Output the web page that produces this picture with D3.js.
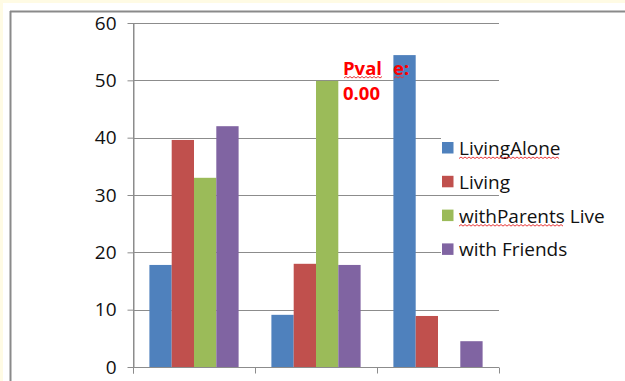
<!DOCTYPE html>
<html>
<head>
<meta charset="utf-8">
<script src="https://cdn.jsdelivr.net/npm/d3@7"></script>
<style>
  html, body { margin: 0; padding: 0; background: #ffffff; }
  svg { display: block; font-family: "Open Sans", sans-serif; }
</style>
</head>
<body>
<svg id="chart" width="625" height="381"></svg>
<script>
// Category groups (unlabelled on the axis)
const categories = ["group1", "group2", "group3"];
const seriesNames = ["LivingAlone", "Living", "withParents Live", "with Friends"];
const livingAlone = [17.8, 9.1, 54.4];
const living = [39.6, 18.0, 8.9];
const withParents = [33.0, 49.9, 0];
const withFriends = [42.0, 17.8, 4.5];
const yTicks = [0, 10, 20, 30, 40, 50, 60];
const colors = ["#4f81bd", "#c0504d", "#9bbb59", "#8064a2"];
const pLabelLines = ["Pval", "e:", "0.00"];

const seriesValues = [livingAlone, living, withParents, withFriends];

const svg = d3.select("#chart");

// page frame: pale strip at the top/left and a grey border
svg.append("rect").attr("x", 0).attr("y", 0).attr("width", 625).attr("height", 3).attr("fill", "#fffbe4");
svg.append("rect").attr("x", 0).attr("y", 0).attr("width", 3).attr("height", 381).attr("fill", "#fffbe4");
svg.append("line").attr("x1", 10.5).attr("x2", 10.5).attr("y1", 11).attr("y2", 381)
  .attr("stroke", "#8a8a8a").attr("stroke-width", 2);
svg.append("line").attr("x1", 10).attr("x2", 625).attr("y1", 11.5).attr("y2", 11.5)
  .attr("stroke", "#8a8a8a").attr("stroke-width", 2);

const plotLeft = 133, plotRight = 499, plotTop = 23, plotBottom = 367;

const x = d3.scaleBand().domain(categories).range([plotLeft, plotRight]).paddingInner(0).paddingOuter(0);
const xs = d3.scaleBand().domain(seriesNames).range([0, x.bandwidth()])
  .paddingInner(0).paddingOuter(0.735);
const y = d3.scaleLinear().domain([0, 60]).range([plotBottom, plotTop]);

// horizontal gridlines
svg.append("g").selectAll("line").data(yTicks.filter(d => d > 0)).join("line")
  .attr("x1", plotLeft).attr("x2", plotRight)
  .attr("y1", d => Math.round(y(d)) + 0.5).attr("y2", d => Math.round(y(d)) + 0.5)
  .attr("stroke", "#8c8c8c").attr("stroke-width", 1);

// bars
const rows = [];
categories.forEach((c, i) => {
  seriesNames.forEach((s, j) => {
    rows.push({ cat: c, series: s, value: seriesValues[j][i], color: colors[j] });
  });
});
svg.append("g").selectAll("rect").data(rows.filter(d => d.value > 0)).join("rect")
  .attr("x", d => x(d.cat) + xs(d.series))
  .attr("width", xs.bandwidth())
  .attr("y", d => y(d.value))
  .attr("height", d => y(0) - y(d.value))
  .attr("fill", d => d.color);

// y axis
const yAxis = svg.append("g").attr("transform", `translate(${plotLeft + 0.5},0)`)
  .call(d3.axisLeft(y).tickValues(yTicks).tickSize(6).tickPadding(11).tickSizeOuter(0));
yAxis.select(".domain").attr("stroke", "#8c8c8c");
yAxis.selectAll(".tick line").attr("stroke", "#8c8c8c");
yAxis.selectAll(".tick text")
  .attr("font-family", "Open Sans, sans-serif").attr("font-size", 19).attr("fill", "#111");

// x axis with tick marks between the groups
const xBase = Math.round(y(0)) + 0.5;
svg.append("line").attr("x1", plotLeft).attr("x2", plotRight).attr("y1", xBase).attr("y2", xBase)
  .attr("stroke", "#8c8c8c");
const boundaries = categories.map(c => x(c)).concat([x(categories[categories.length - 1]) + x.step()]);
svg.append("g").selectAll("line").data(boundaries).join("line")
  .attr("x1", d => Math.round(d) + 0.5).attr("x2", d => Math.round(d) + 0.5)
  .attr("y1", xBase).attr("y2", xBase + 6)
  .attr("stroke", "#8c8c8c");
svg.append("line").attr("x1", plotLeft + 0.5).attr("x2", plotLeft + 0.5).attr("y1", plotTop).attr("y2", xBase + 6)
  .attr("stroke", "#8c8c8c");

// wavy proofing underline
function squiggle(x0, x1, yy) {
  let d = `M${x0},${yy}`;
  let up = true;
  for (let xx = x0 + 2; xx <= x1; xx += 2) {
    d += `L${xx},${up ? yy - 1.5 : yy}`;
    up = !up;
  }
  return d;
}
const squig = svg.append("g").attr("fill", "none").attr("stroke", "#e8393a").attr("stroke-width", 1);

// p-value annotation
const pText = svg.append("g").attr("fill", "#ff0000")
  .attr("font-family", "Open Sans, sans-serif").attr("font-weight", "bold").attr("font-size", 18.5);
pText.append("text").attr("x", 343).attr("y", 75).text(pLabelLines[0]);
pText.append("text").attr("x", 393).attr("y", 75).text(pLabelLines[1]);
pText.append("text").attr("x", 343).attr("y", 100).text(pLabelLines[2]);
squig.append("path").attr("d", squiggle(344, 383, 78));
squig.append("path").attr("d", squiggle(394, 404, 78));

// legend (each entry sits on its own white backing)
const legend = svg.append("g").attr("transform", "translate(442,142)");
const rowGap = 33.8;
seriesNames.forEach((s, i) => {
  const g = legend.append("g").attr("transform", `translate(0,${i * rowGap})`);
  g.append("rect").attr("x", -1).attr("y", -4).attr("width", 168).attr("height", 22).attr("fill", "#ffffff");
  g.append("rect").attr("width", 11.5).attr("height", 11.5).attr("fill", colors[i]);
  const t = g.append("text").attr("x", 17).attr("y", 13)
    .attr("font-family", "Open Sans, sans-serif").attr("font-size", 19).attr("fill", "#111")
    .text(s);
  // proofing marks under the run-together words
  const word = s.split(" ")[0];
  if (word === "LivingAlone" || word === "withParents") {
    const node = t.node();
    const w = node.getSubStringLength(0, word.length);
    g.append("path").attr("d", squiggle(17, 17 + w, 16.5))
      .attr("fill", "none").attr("stroke", "#e8393a").attr("stroke-width", 1);
  }
});
</script>
</body>
</html>
